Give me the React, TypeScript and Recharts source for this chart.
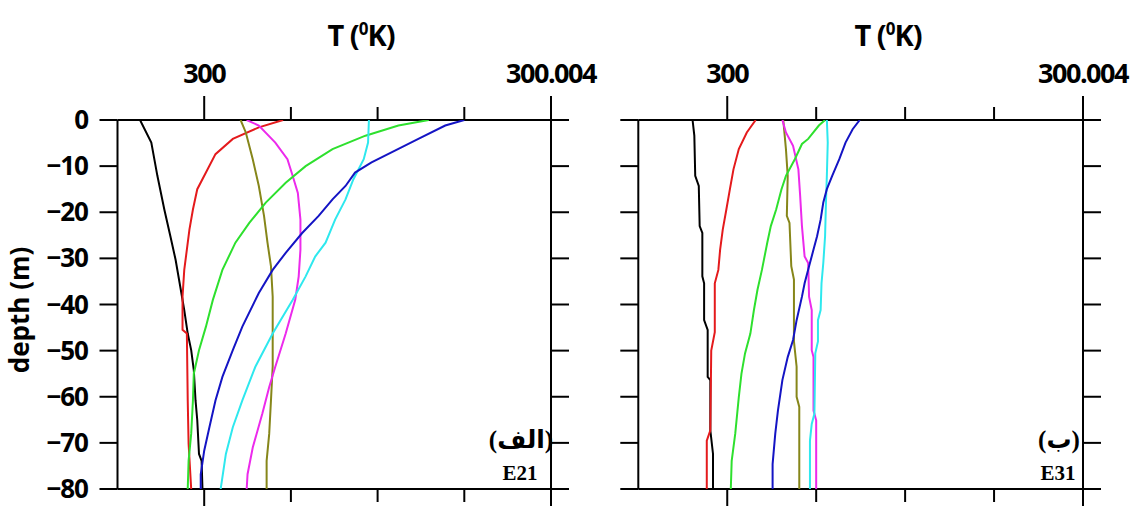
import { ScatterChart, Scatter, XAxis, YAxis } from 'recharts';

// depth (m), temperature (K) pairs top to bottom
const e21Black = [[0, 299.99926], [-4.9, 299.99939], [-12.1, 299.99946], [-19.4, 299.99954], [-25.2, 299.99961], [-30.3, 299.99967], [-36.8, 299.99973], [-41.2, 299.99977], [-46.3, 299.99981], [-49.9, 299.99985], [-54.2, 299.99988], [-60.8, 299.9999], [-65.1, 299.99992], [-72.4, 299.99994], [-73.9, 299.99997], [-80, 299.99998]];
const e21Red = [[0, 300.00091], [-1.6, 300.00063], [-4.1, 300.00033], [-7.4, 300.00013], [-11.4, 300.00002], [-15, 299.99992], [-19.4, 299.99987], [-23.7, 299.99983], [-28.1, 299.9998], [-32.5, 299.99977], [-38.3, 299.99975], [-45.5, 299.99975], [-46.3, 299.9998], [-60.8, 299.99981], [-70.2, 299.99982], [-80, 299.99985]];
const e21Olive = [[0, 300.00042], [-2.7, 300.00048], [-8.5, 300.00056], [-14.3, 300.00063], [-20.8, 300.00069], [-26.6, 300.00073], [-31.7, 300.00077], [-38.3, 300.00079], [-53.4, 300.00079], [-60.8, 300.00077], [-68, 300.00075], [-73.9, 300.00072], [-80, 300.00072]];
const e21Magenta = [[0, 300.00049], [-1.2, 300.00063], [-4.9, 300.00082], [-8.5, 300.00096], [-12.1, 300.00102], [-15.8, 300.00108], [-21.6, 300.00111], [-28.1, 300.00111], [-33.9, 300.00109], [-39, 300.00105], [-46.3, 300.00094], [-53.5, 300.00082], [-57.9, 300.00075], [-63.7, 300.00067], [-71, 300.00056], [-76.8, 300.0005], [-80, 300.00049]];
const e21Green = [[0, 300.00259], [-1.2, 300.00224], [-3.4, 300.00186], [-6.3, 300.00148], [-10, 300.00117], [-13.6, 300.00094], [-17.9, 300.00071], [-22.3, 300.00052], [-26.6, 300.00036], [-32.5, 300.00021], [-39, 300.0001], [-44.8, 300.00002], [-49.9, 299.99994], [-55, 299.99988], [-60.8, 299.99987], [-68, 299.99985], [-73.9, 299.99982], [-80, 299.99981]];
const e21Cyan = [[0, 300.0019], [-4.9, 300.00189], [-8.5, 300.00184], [-12.9, 300.00172], [-17.2, 300.00163], [-21.6, 300.00151], [-26.6, 300.0014], [-29.6, 300.00128], [-33.9, 300.00117], [-39, 300.00102], [-46.3, 300.00079], [-53.5, 300.00059], [-60.8, 300.00044], [-66.6, 300.00033], [-72.4, 300.00025], [-80, 300.00019]];
const e21Blue = [[0, 300.003], [-1.2, 300.00278], [-4.1, 300.00247], [-7, 300.00216], [-9.2, 300.00193], [-11.4, 300.00174], [-14.3, 300.00163], [-17.2, 300.00148], [-20.8, 300.00132], [-24.5, 300.00113], [-28.8, 300.00094], [-32.5, 300.00079], [-37.5, 300.00063], [-44.8, 300.00044], [-49.9, 300.00033], [-55.7, 300.00021], [-60.8, 300.00013], [-66.6, 300.00006], [-71.7, 300.0], [-76.8, 299.99996], [-80, 299.99996]];

const e31Black = [[0, 299.99961], [-3.4, 299.99963], [-12.1, 299.99964], [-14.3, 299.99968], [-23, 299.99969], [-24.5, 299.99972], [-33.9, 299.99972], [-35.4, 299.99974], [-43.4, 299.99974], [-45.5, 299.99978], [-55.7, 299.99978], [-56.4, 299.99981], [-67.3, 299.99981], [-72.4, 299.99984], [-80, 299.99984]];
const e31Red = [[0, 300.00032], [-2.7, 300.00022], [-6.3, 300.00013], [-10.7, 300.00007], [-15, 300.00003], [-19.4, 299.99999], [-23.7, 299.99995], [-28.1, 299.99992], [-32.5, 299.9999], [-35.4, 299.99986], [-46, 299.99986], [-50, 299.99982], [-67.3, 299.99981], [-69.5, 299.99977], [-80, 299.99977]];
const e31Olive = [[0, 300.00063], [-6.3, 300.00066], [-12.1, 300.00068], [-20.8, 300.00067], [-22.3, 300.0007], [-31.7, 300.00072], [-34.6, 300.00075], [-48, 300.00075], [-53.5, 300.00078], [-60, 300.00078], [-62.2, 300.00081], [-80, 300.00081]];
const e31Magenta = [[0, 300.00062], [-2.7, 300.00066], [-5.6, 300.00074], [-10.7, 300.0008], [-16.5, 300.00082], [-23, 300.00084], [-29.6, 300.00087], [-31, 300.00091], [-38.3, 300.00092], [-41.2, 300.00095], [-49.9, 300.00095], [-51.4, 300.00097], [-63, 300.00097], [-65.1, 300.001], [-80, 300.001]];
const e31Green = [[0, 300.0011], [-1.2, 300.00103], [-4.1, 300.00091], [-5.2, 300.00084], [-8.5, 300.00076], [-12.1, 300.00066], [-15, 300.00061], [-19.4, 300.00055], [-23, 300.00049], [-26.6, 300.00045], [-32.5, 300.00039], [-36.8, 300.00034], [-41.2, 300.0003], [-46.3, 300.00026], [-50.6, 300.0002], [-55, 300.00016], [-60.1, 300.00013], [-68, 300.00009], [-73.9, 300.00005], [-80, 300.00004]];
const e31Cyan = [[0, 300.00112], [-4.9, 300.00113], [-12.1, 300.00112], [-17.9, 300.00111], [-25.2, 300.0011], [-31, 300.00108], [-35.4, 300.00106], [-41.2, 300.00105], [-43.4, 300.00102], [-48, 300.00102], [-50.6, 300.00099], [-63.7, 300.00098], [-65.9, 300.00095], [-69.5, 300.00093], [-80, 300.00093]];
const e31Blue = [[0, 300.00149], [-2, 300.00141], [-4.9, 300.00133], [-8.5, 300.00126], [-12.1, 300.00118], [-15, 300.00112], [-17.9, 300.00108], [-21.6, 300.00105], [-25.2, 300.00101], [-28.1, 300.00097], [-31.7, 300.00092], [-35.4, 300.00087], [-38.3, 300.00084], [-43.4, 300.00078], [-47.7, 300.00074], [-51.4, 300.00068], [-56.4, 300.00062], [-63, 300.00057], [-68, 300.00054], [-74.6, 300.00051], [-80, 300.00051]];

const X_DOMAIN = [299.999, 300.004];
const X_TICKS = [299.999, 300, 300.001, 300.002, 300.003, 300.004];
const X_LABELS = ['', '300', '', '', '', '300.004'];
const Y_TICKS = [0, -10, -20, -30, -40, -50, -60, -70, -80];

const COLORS = { black: '#000000', red: '#e41a1c', olive: '#86861a', magenta: '#ec2aec', green: '#2ee02e', cyan: '#2ee8ee', blue: '#1414c4' };

const toPts = (rows: number[][]) => rows.map(([d, t]) => ({ d, t }));

const e21 = [
  { name: 'black', data: e21Black }, { name: 'red', data: e21Red }, { name: 'olive', data: e21Olive },
  { name: 'magenta', data: e21Magenta }, { name: 'green', data: e21Green }, { name: 'cyan', data: e21Cyan }, { name: 'blue', data: e21Blue },
];
const e31 = [
  { name: 'black', data: e31Black }, { name: 'red', data: e31Red }, { name: 'olive', data: e31Olive },
  { name: 'magenta', data: e31Magenta }, { name: 'green', data: e31Green }, { name: 'cyan', data: e31Cyan }, { name: 'blue', data: e31Blue },
];

const FONT = "'Open Sans', sans-serif";
const AXIS = { stroke: '#000', strokeWidth: 2 };

const tickIndex = (v: number) => X_TICKS.findIndex((t) => Math.abs(t - v) < 1e-7);

const TopTick = (p: any) => {
  const i = tickIndex(p.payload.value);
  if (i <= 0) return <g />;
  const label = X_LABELS[i];
  return (
    <g>
      <line x1={p.x} x2={p.x} y1={p.y} y2={p.y - (label ? 24 : 13)} stroke="#000" strokeWidth={2} />
      {label && <text x={p.x} y={p.y - 37} textAnchor="middle" fontFamily={FONT} fontWeight={700} fontSize={27} letterSpacing={-1.5}>{label}</text>}
    </g>
  );
};

const BottomTick = (p: any) => {
  const i = tickIndex(p.payload.value);
  if (i <= 0) return <g />;
  return <line x1={p.x} x2={p.x} y1={p.y} y2={p.y + (X_LABELS[i] ? 24 : 13)} stroke="#000" strokeWidth={2} />;
};

const sideTick = (dir: number, labels: boolean) => (p: any) => (
  <g>
    <line x1={p.x} x2={p.x + dir * 18} y1={p.y} y2={p.y} stroke="#000" strokeWidth={2} />
    {labels && <text x={p.x - 29.5} y={p.y + 9} textAnchor="end" fontFamily={FONT} fontWeight={700} fontSize={26} letterSpacing={-1}>{String(p.payload.value).replace('-', '\u2212')}</text>}
  </g>
);

// axes are 1px thick so Recharts draws them; margins leave the plot box where the figure has it
function Panel({ series, width, left, right, yLabels }: { series: typeof e21; width: number; left: number; right: number; yLabels: boolean }) {
  return (
    <ScatterChart width={width} height={506} margin={{ top: 119, bottom: 16, left: left - 1, right: right - 1 }}>
      <XAxis xAxisId="top" orientation="top" type="number" dataKey="t" domain={X_DOMAIN} ticks={X_TICKS} interval={0} allowDataOverflow height={1} tickSize={0} tickMargin={0} tickLine={false} axisLine={AXIS} tick={TopTick} />
      <XAxis xAxisId="bottom" orientation="bottom" type="number" dataKey="t" domain={X_DOMAIN} ticks={X_TICKS} interval={0} allowDataOverflow height={1} tickSize={0} tickMargin={0} tickLine={false} axisLine={AXIS} tick={BottomTick} />
      <YAxis yAxisId="left" orientation="left" type="number" dataKey="d" domain={[-80, 0]} ticks={Y_TICKS} interval={0} allowDataOverflow width={1} tickSize={0} tickMargin={0} tickLine={false} axisLine={AXIS} tick={sideTick(-1, yLabels)} />
      <YAxis yAxisId="right" orientation="right" type="number" dataKey="d" domain={[-80, 0]} ticks={Y_TICKS} interval={0} allowDataOverflow width={1} tickSize={0} tickMargin={0} tickLine={false} axisLine={AXIS} tick={sideTick(1, false)} />
      {series.map((s) => {
        const color = (COLORS as any)[s.name];
        return (
          <Scatter key={s.name} xAxisId="top" yAxisId="left" data={toPts(s.data)} fill="none" line={{ stroke: color, strokeWidth: 2 }} shape={() => <g />} isAnimationActive={false} />
        );
      })}
    </ScatterChart>
  );
}

export default function App() {
  return (
    <div style={{ position: 'absolute', left: 0, top: 0, width: 1134, height: 506, background: '#fff', overflow: 'hidden' }}>
      <div style={{ position: 'absolute', left: 0, top: 0 }}>
        <Panel series={e21} width={600} left={117.5} right={49} yLabels />
      </div>
      <div style={{ position: 'absolute', left: 600, top: 0 }}>
        <Panel series={e31} width={534} left={38.3} right={51} yLabels={false} />
      </div>
      <svg width={1134} height={506} style={{ position: 'absolute', left: 0, top: 0, pointerEvents: 'none' }}>
        <g fontFamily={FONT} fontWeight={700} fontSize={29} letterSpacing={-1}>
          <text x={361} y={46} textAnchor="middle">T (<tspan fontSize={17} dy={-11}>0</tspan><tspan dy={11}>K)</tspan></text>
          <text x={888} y={46} textAnchor="middle">T (<tspan fontSize={17} dy={-11}>0</tspan><tspan dy={11}>K)</tspan></text>
        </g>
        <text transform="translate(29,310) rotate(-90)" textAnchor="middle" fontFamily={FONT} fontWeight={700} fontSize={26}>depth (m)</text>
        <g fontFamily="'Liberation Serif', 'DejaVu Sans', serif" fontWeight={700} textAnchor="middle">
          <text x={521} y={448} fontSize={25}>(الف)</text>
          <text x={520} y={480} fontSize={21}>E21</text>
          <text x={1059} y={448} fontSize={25}>(ب)</text>
          <text x={1058} y={480} fontSize={21}>E31</text>
        </g>
      </svg>
    </div>
  );
}
